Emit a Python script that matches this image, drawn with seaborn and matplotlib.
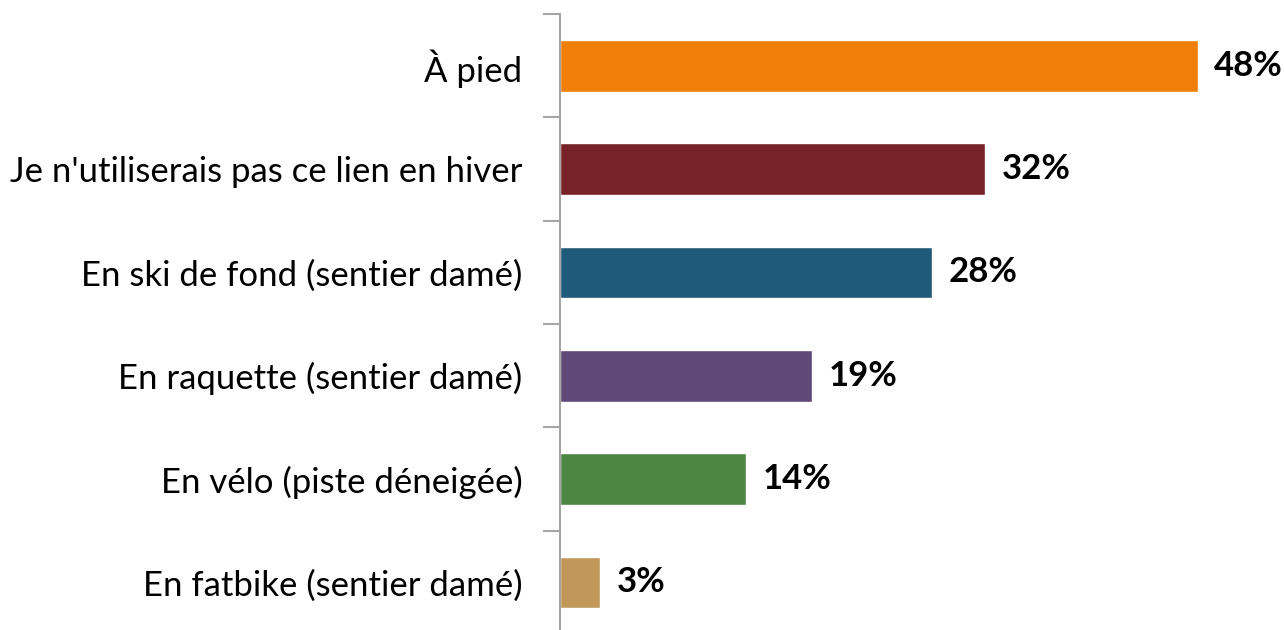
import matplotlib

matplotlib.use("Agg")

import matplotlib.pyplot as plt
import pandas as pd
import seaborn as sns

categories = [
    "À pied",
    "Je n'utiliserais pas ce lien en hiver",
    "En ski de fond (sentier damé)",
    "En raquette (sentier damé)",
    "En vélo (piste déneigée)",
    "En fatbike (sentier damé)",
]
percentages = [48, 32, 28, 19, 14, 3]
bar_colors = ["#F07F09", "#772129", "#1F5A7B", "#604878", "#4E8542", "#C19859"]

sns.set_theme(style="white")
plt.rcParams["font.family"] = ["Lato", "DejaVu Sans"]

frame = pd.DataFrame({"mode": categories, "pct": percentages})

fig = plt.figure(figsize=(12.84, 6.30), dpi=100)
ax = fig.add_axes([560 / 1284, -4 / 630, 1 - 560 / 1284, 620 / 630])

sns.barplot(
    data=frame,
    x="pct",
    y="mode",
    hue="mode",
    palette=bar_colors,
    dodge=False,
    legend=False,
    width=0.5,
    saturation=1,
    ax=ax,
)

ax.set_xlim(0, 54.5)
ax.set_ylim(len(categories) - 0.5, -0.5)
ax.set_xlabel("")
ax.set_ylabel("")
ax.set_xticks([])

# category boundaries carry the tick marks, labels sit between them
ax.set_yticks([i - 0.5 for i in range(len(categories) + 1)], minor=False)
ax.set_yticklabels([])
ax.set_yticks(range(len(categories)), minor=True)
ax.set_yticklabels(categories, minor=True, fontsize=25, color="black")
ax.tick_params(axis="y", which="major", direction="out", length=12, width=1.5, color="#A6A6A6", left=True)
ax.tick_params(axis="y", which="minor", length=0, pad=27)

for side in ["top", "right", "bottom"]:
    ax.spines[side].set_visible(False)
ax.spines["left"].set_color("#A6A6A6")
ax.spines["left"].set_linewidth(1.5)

for i, value in enumerate(percentages):
    ax.annotate(
        f"{value}%",
        xy=(value, i),
        xytext=(12, 0),
        textcoords="offset points",
        va="center",
        ha="left",
        fontsize=25,
        fontweight="bold",
        color="black",
    )

fig.savefig("out.png", dpi=100)
